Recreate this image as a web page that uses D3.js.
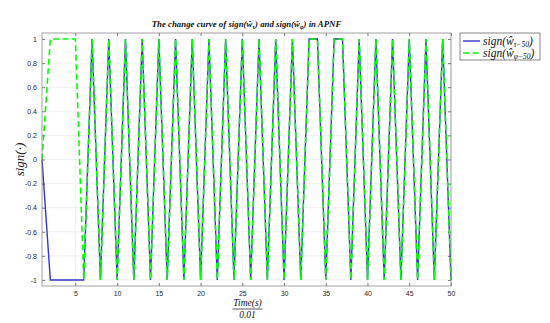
<!DOCTYPE html>
<html>
<head>
<meta charset="utf-8">
<script src="https://cdn.jsdelivr.net/npm/d3@7"></script>
<style>
  body { margin: 0; background: #fff; }
  svg { font-family: "Liberation Sans", Arial, sans-serif; }
  .tick text { font-size: 7px; fill: #262626; }
  .serif { font-family: "Liberation Serif", "DejaVu Serif", serif; font-style: italic; }
</style>
</head>
<body>
<svg id="chart" width="550" height="323"></svg>
<script>
// time steps (Time(s)/0.01)
const steps = d3.range(1, 51);
// sign(w_tau-50)
const signTau = [0, -1, -1, -1, -1, -1, 1, -1, 1, -1,
  1, -1, 1, -1, 1, -1, 1, -1, 1, -1,
  1, -1, 1, -1, 1, -1, 1, -1, 1, -1,
  1, -1, 1, 1, -1, 1, 1, -1, 1, -1,
  1, -1, 1, -1, 1, -1, 1, -1, 1, -1];
// sign(w_phi-50)
const signPhi = [0, 1, 1, 1, 1, -1, 1, -1, 1, -1,
  1, -1, 1, -1, 1, -1, 1, -1, 1, -1,
  1, -1, 1, -1, 1, -1, 1, -1, 1, -1,
  1, -1, 1, 1, -1, 1, 1, -1, 1, -1,
  1, -1, 1, -1, 1, -1, 1, -1, 1, -1];
const xTicks = [5, 10, 15, 20, 25, 30, 35, 40, 45, 50];
const yTicks = [-1, -0.8, -0.6, -0.4, -0.2, 0, 0.2, 0.4, 0.6, 0.8, 1];

const margin = { top: 33, right: 99, bottom: 37, left: 42 },
  width = 550 - margin.left - margin.right,
  height = 323 - margin.top - margin.bottom;

const svg = d3.select("#chart");
const g = svg.append("g").attr("transform", `translate(${margin.left},${margin.top})`);

const x = d3.scaleLinear().domain([1, 50]).range([0, width]);
const y = d3.scaleLinear().domain([-1.05, 1.05]).range([height, 0]);

// grid
g.append("g").selectAll("line").data(xTicks).enter().append("line")
  .attr("x1", (d) => x(d)).attr("x2", (d) => x(d))
  .attr("y1", 0).attr("y2", height)
  .attr("stroke", "#e6e6e6").attr("stroke-width", 0.6);
g.append("g").selectAll("line").data(yTicks).enter().append("line")
  .attr("x1", 0).attr("x2", width)
  .attr("y1", (d) => y(d)).attr("y2", (d) => y(d))
  .attr("stroke", "#e6e6e6").attr("stroke-width", 0.6);

const yFmt = (d) => (d === 0 ? "0" : String(+d.toFixed(1)));
const xAxis = (gg) => gg.call(d3.axisBottom(x).tickValues(xTicks).tickSize(-3).tickPadding(5))
  .call((s) => s.select(".domain").remove());
const yAxis = (gg) => gg.call(d3.axisLeft(y).tickValues(yTicks).tickSize(-3).tickPadding(5).tickFormat(yFmt))
  .call((s) => s.select(".domain").remove());
const xTop = (gg) => gg.call(d3.axisTop(x).tickValues(xTicks).tickSize(-3).tickFormat(""))
  .call((s) => s.select(".domain").remove());
const yRight = (gg) => gg.call(d3.axisRight(y).tickValues(yTicks).tickSize(-3).tickFormat(""))
  .call((s) => s.select(".domain").remove());

g.append("g").attr("transform", `translate(0,${height})`).call(xAxis);
g.append("g").call(yAxis);
g.append("g").call(xTop);
g.append("g").attr("transform", `translate(${width},0)`).call(yRight);
g.selectAll(".tick line").attr("stroke", "#262626").attr("stroke-width", 0.6);

const line = d3.line().x((d, i) => x(steps[i])).y((d) => y(d));
g.append("path").datum(signTau).attr("d", line)
  .attr("fill", "none").attr("stroke", "#3535c8").attr("stroke-width", 1.4);
g.append("path").datum(signPhi).attr("d", line)
  .attr("fill", "none").attr("stroke", "#00ff00").attr("stroke-width", 1.6)
  .attr("stroke-dasharray", "6,3.5");

g.append("rect").attr("width", width).attr("height", height)
  .attr("fill", "none").attr("stroke", "#8a8a8a").attr("stroke-width", 0.8);

// title
const title = svg.append("text").attr("class", "serif")
  .attr("x", margin.left + width / 2).attr("y", 27)
  .attr("text-anchor", "middle").attr("font-size", 8.8).attr("font-weight", "bold").attr("fill", "#111");
title.append("tspan").text("The change curve of sign(ŵ");
title.append("tspan").attr("font-size", 6).attr("dy", 2).text("τ");
title.append("tspan").attr("dy", -2).text(") and sign(ŵ");
title.append("tspan").attr("font-size", 6).attr("dy", 2).text("φ");
title.append("tspan").attr("dy", -2).text(") in APNF");

// y label
svg.append("text").attr("class", "serif")
  .attr("transform", `translate(24,${margin.top + height / 2}) rotate(-90)`)
  .attr("text-anchor", "middle").attr("font-size", 13).attr("fill", "#111")
  .text("sign(·)");

// x label fraction
const cx = margin.left + width / 2 + 1;
svg.append("text").attr("class", "serif").attr("x", cx).attr("y", 306)
  .attr("text-anchor", "middle").attr("font-size", 9.5).attr("fill", "#111").text("Time(s)");
svg.append("line").attr("x1", cx - 15).attr("x2", cx + 15).attr("y1", 309).attr("y2", 309)
  .attr("stroke", "#111").attr("stroke-width", 0.7);
svg.append("text").attr("class", "serif").attr("x", cx).attr("y", 318)
  .attr("text-anchor", "middle").attr("font-size", 9.5).attr("fill", "#111").text("0.01");

// legend
const leg = svg.append("g").attr("transform", "translate(460,33)");
leg.append("rect").attr("width", 80).attr("height", 27)
  .attr("fill", "#fff").attr("stroke", "#555").attr("stroke-width", 0.7);
const items = [
  { sub: "τ−50", color: "#3535c8", dash: null, w: 1.4 },
  { sub: "φ−50", color: "#00ff00", dash: "6,3.5", w: 1.6 },
];
items.forEach((it, i) => {
  const yy = 8 + i * 12;
  leg.append("line").attr("x1", 3).attr("x2", 20).attr("y1", yy).attr("y2", yy)
    .attr("stroke", it.color).attr("stroke-width", it.w).attr("stroke-dasharray", it.dash);
  const t = leg.append("text").attr("class", "serif").attr("x", 23).attr("y", yy + 4)
    .attr("font-size", 11.5).attr("fill", "#111");
  t.append("tspan").text("sign(ŵ");
  t.append("tspan").attr("font-size", 7.5).attr("dy", 2).text(it.sub);
  t.append("tspan").attr("dy", -2).text(")");
});
</script>
</body>
</html>
